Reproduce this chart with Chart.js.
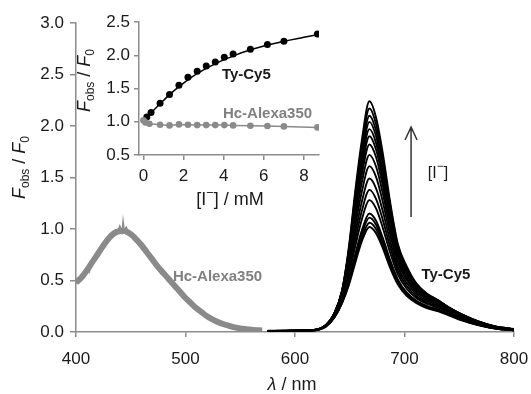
<!DOCTYPE html>
<html>
<head>
<meta charset="utf-8">
<script src="https://cdn.jsdelivr.net/npm/chart.js@4.4.1/dist/chart.umd.min.js"></script>
<style>
  body { margin: 0; background: #fff; }
  #wrap { position: relative; width: 531px; height: 394px; }
  #main { position: absolute; left: 0; top: 0; }
  #inset { position: absolute; left: 0; top: 0; }
</style>
</head>
<body>
<div id="wrap">
  <canvas id="main" width="531" height="394"></canvas>
  <canvas id="inset" width="340" height="215"></canvas>
</div>
<script>
// ---- main spectra ----
const mainXTicks = [400, 500, 600, 700, 800];
const mainYTicks = [0, 0.5, 1, 1.5, 2, 2.5, 3];

// Hc-Alexa350 emission (grey band)
const wlAlexa = [400, 405, 410, 415, 420, 425, 430, 435, 440, 445, 450, 455, 460, 465, 470, 475, 480, 485, 490, 495,
                 500, 505, 510, 515, 520, 525, 530, 535, 540, 545, 550, 555, 560, 565, 570];
const alexa = [0.48, 0.53, 0.60, 0.68, 0.76, 0.84, 0.91, 0.96, 0.98, 0.98, 0.95, 0.90, 0.84, 0.77, 0.70, 0.63, 0.57, 0.51, 0.45, 0.39,
               0.33, 0.28, 0.23, 0.19, 0.15, 0.12, 0.095, 0.075, 0.06, 0.045, 0.035, 0.028, 0.022, 0.018, 0.015];
// noisy trace on top of the band
const wlAlexaNoise = [400, 403, 406, 408, 410, 412, 414, 417, 420, 425, 430, 433, 436, 438, 440, 442, 443, 444, 446, 448, 450, 453, 456, 460];
const alexaNoise = [0.47, 0.50, 0.54, 0.57, 0.62, 0.58, 0.64, 0.70, 0.75, 0.84, 0.92, 0.95, 0.99, 0.97, 1.03, 0.97, 1.08, 0.99, 1.02, 0.96, 0.97, 0.92, 0.90, 0.84];

// Ty-Cy5 emission, one trace per iodide addition
const wlCy5 = [575, 615, 628, 636, 643, 649, 655, 661, 668, 674, 680, 687, 694, 702, 711, 721, 731, 741, 753, 767, 783, 800];
const cy5_01 = [.010, .015, .050, .140, .280, .450, .670, .880, 1.02, .960, .820, .620, .460, .350, .280, .230, .200, .160, .110, .066, .033, .015];
const cy5_02 = [.011, .016, .053, .143, .286, .466, .700, .910, 1.06, 1.00, .850, .650, .477, .360, .286, .238, .206, .169, .116, .069, .034, .016];
const cy5_03 = [.011, .016, .053, .145, .292, .482, .728, .952, 1.11, 1.042, .887, .673, .494, .373, .295, .245, .212, .173, .119, .071, .034, .017];
const cy5_04 = [.012, .017, .055, .148, .299, .496, .753, .986, 1.15, 1.08, .918, .696, .509, .384, .303, .251, .217, .177, .122, .073, .036, .017];
const cy5_05 = [.011, .017, .058, .158, .321, .541, .831, 1.093, 1.28, 1.20, 1.018, .767, .557, .420, .329, .272, .234, .190, .131, .078, .039, .019];
const cy5_06 = [.011, .017, .060, .164, .336, .575, .891, 1.175, 1.38, 1.293, 1.096, .822, .593, .447, .348, .286, .245, .198, .138, .082, .041, .020];
const cy5_07 = [.011, .017, .062, .170, .351, .610, .955, 1.264, 1.49, 1.395, 1.181, .880, .630, .475, .368, .301, .257, .207, .144, .087, .043, .021];
const cy5_08 = [.011, .017, .063, .175, .365, .646, 1.024, 1.361, 1.61, 1.506, 1.272, .943, .670, .505, .388, .316, .269, .215, .150, .091, .045, .023];
const cy5_09 = [.011, .017, .064, .178, .375, .678, 1.086, 1.450, 1.72, 1.607, 1.356, 1.000, .705, .530, .405, .328, .278, .221, .155, .094, .047, .024];
const cy5_10 = [.011, .017, .065, .180, .384, .705, 1.142, 1.529, 1.82, 1.699, 1.432, 1.051, .735, .553, .420, .338, .286, .226, .158, .097, .049, .025];
const cy5_11 = [.011, .016, .065, .181, .390, .726, 1.186, 1.593, 1.90, 1.772, 1.493, 1.090, .759, .571, .431, .345, .291, .229, .161, .099, .050, .026];
const cy5_12 = [.010, .016, .065, .182, .394, .744, 1.224, 1.648, 1.97, 1.836, 1.545, 1.125, .779, .585, .440, .351, .295, .231, .163, .100, .051, .026];
const cy5_13 = [.010, .015, .064, .182, .397, .761, 1.261, 1.703, 2.04, 1.900, 1.598, 1.159, .799, .600, .448, .357, .299, .233, .165, .102, .052, .027];
const cy5_14 = [.010, .015, .064, .181, .400, .775, 1.293, 1.750, 2.10, 1.956, 1.643, 1.188, .815, .612, .455, .361, .302, .234, .166, .103, .052, .028];
const cy5_15 = [.009, .014, .064, .180, .402, .791, 1.330, 1.805, 2.17, 2.019, 1.695, 1.222, .833, .625, .463, .365, .304, .235, .167, .104, .053, .028];
const cy5_16 = [.009, .013, .063, .179, .403, .806, 1.366, 1.859, 2.24, 2.083, 1.747, 1.254, .851, .638, .470, .370, .307, .235, .168, .105, .054, .029];
const cy5Traces = [cy5_01, cy5_02, cy5_03, cy5_04, cy5_05, cy5_06, cy5_07, cy5_08, cy5_09, cy5_10, cy5_11, cy5_12, cy5_13, cy5_14, cy5_15, cy5_16];

// ---- inset: Fobs/F0 vs [I-] ----
const insetXTicks = [0, 2, 4, 6, 8];
const insetYTicks = [0.5, 1, 1.5, 2, 2.5];
const iodideTy = [0.17, 0.38, 0.83, 1.3, 1.77, 2.22, 2.68, 3.13, 3.58, 4.03, 4.47, 5.33, 6.18, 7.0, 8.67];
const ratioTy = [1.07, 1.14, 1.28, 1.41, 1.55, 1.67, 1.76, 1.84, 1.90, 1.97, 2.02, 2.09, 2.16, 2.21, 2.32];
const fitX = [0, 0.5, 1, 1.5, 2, 2.5, 3, 3.5, 4, 4.5, 5, 6, 7, 8, 8.67];
const fitY = [1.0, 1.17, 1.32, 1.46, 1.58, 1.69, 1.78, 1.86, 1.93, 1.99, 2.05, 2.14, 2.21, 2.27, 2.31];
const iodideHc = [0, 0.1, 0.3, 0.83, 1.3, 1.77, 2.22, 2.68, 3.13, 3.58, 4.03, 4.47, 5.33, 6.18, 7.0, 8.67];
const ratioHc = [1.02, 0.99, 0.97, 0.955, 0.945, 0.96, 0.955, 0.95, 0.95, 0.95, 0.95, 0.945, 0.94, 0.935, 0.93, 0.915];

const FONT = '"Liberation Sans", Arial, Helvetica, sans-serif';
const AXIS = '#8c8c8c';
const GREY = '#8a8a8a';
const INK = '#1a1a1a';

const pts = (xs, ys) => xs.map((x, i) => ({ x: x, y: ys[i] }));

// draws text made of several styled pieces (italic F, subscripts ...)
function rich(ctx, parts, x, y, rot) {
    ctx.save();
    ctx.translate(x, y);
    if (rot) ctx.rotate(rot);
    ctx.fillStyle = INK;
    ctx.textBaseline = 'alphabetic';
    ctx.textAlign = 'left';
    let w = 0;
    parts.forEach(p => { ctx.font = p.f; w += ctx.measureText(p.t).width; });
    let cx = -w / 2;
    parts.forEach(p => {
        ctx.font = p.f;
        ctx.fillText(p.t, cx, p.dy || 0);
        cx += ctx.measureText(p.t).width;
    });
    ctx.restore();
}
const fobsParts = [
    { t: 'F', f: 'italic 18px ' + FONT },
    { t: 'obs', f: '12px ' + FONT, dy: 4 },
    { t: ' / ', f: '18px ' + FONT },
    { t: 'F', f: 'italic 18px ' + FONT },
    { t: '0', f: '12px ' + FONT, dy: 4 }
];

function axisOpts(ticksArr, tickLen, pad, fmt) {
    return {
        type: 'linear',
        afterBuildTicks: s => { s.ticks = ticksArr.map(v => ({ value: v })); },
        ticks: { font: { size: 17, family: FONT }, color: INK, padding: pad, maxRotation: 0, callback: fmt },
        grid: { drawOnChartArea: false, drawTicks: true, tickLength: tickLen, color: AXIS, lineWidth: 1.5 },
        border: { color: AXIS, width: 1.5 }
    };
}

// ---------- main chart ----------
const mainDatasets = [];
mainDatasets.push({ data: pts(wlAlexa, alexa), borderColor: GREY, borderWidth: 6, tension: 0.3 });
mainDatasets.push({ data: pts(wlAlexaNoise, alexaNoise), borderColor: GREY, borderWidth: 1.4, tension: 0 });
cy5Traces.forEach(tr => {
    mainDatasets.push({ data: pts(wlCy5, tr), borderColor: '#000', borderWidth: 1.9, cubicInterpolationMode: 'monotone' });
});

const mainAnnot = {
    id: 'mainAnnot',
    afterDraw(chart) {
        const { ctx, chartArea, scales: { x, y } } = chart;
        ctx.save();
        // series labels
        ctx.font = 'bold 15px ' + FONT;
        ctx.textBaseline = 'alphabetic';
        ctx.fillStyle = '#808080';
        ctx.fillText('Hc-Alexa350', x.getPixelForValue(488.5), y.getPixelForValue(0.495));
        ctx.fillStyle = INK;
        ctx.fillText('Ty-Cy5', x.getPixelForValue(715.5), y.getPixelForValue(0.515));
        // arrow
        const ax = x.getPixelForValue(706), y0 = y.getPixelForValue(1.117), y1 = y.getPixelForValue(1.99);
        ctx.strokeStyle = '#333';
        ctx.lineWidth = 1.5;
        ctx.beginPath();
        ctx.moveTo(ax, y0); ctx.lineTo(ax, y1);
        ctx.moveTo(ax - 6, y1 + 13); ctx.lineTo(ax, y1); ctx.lineTo(ax + 6, y1 + 13);
        ctx.stroke();
        ctx.restore();
        // [I-] near arrow
        const ix = x.getPixelForValue(720.5), iy = y.getPixelForValue(1.495);
        rich(ctx, [
            { t: '[I', f: '16px ' + FONT },
            { t: '\u2212', f: '12px ' + FONT, dy: -8 },
            { t: ']', f: '16px ' + FONT }
        ], ix + 11, iy);
        // axis titles
        rich(ctx, fobsParts, 25, (chartArea.top + chartArea.bottom) / 2 - 10, -Math.PI / 2);
        rich(ctx, [
            { t: '\u03bb', f: 'italic 18px ' + FONT },
            { t: ' / nm', f: '18px ' + FONT }
        ], 292, 390);
    }
};

const mainX = axisOpts(mainXTicks, 5, 12, v => v);
mainX.min = 400; mainX.max = 800;
mainX.afterFit = s => { s.height = 62; s.paddingLeft = 0; s.paddingRight = 0; };
const mainY = axisOpts(mainYTicks, 6, 6, v => v.toFixed(1));
mainY.min = 0; mainY.max = 3;
mainY.afterFit = s => { s.width = 76; s.paddingTop = 0; s.paddingBottom = 0; };

new Chart(document.getElementById('main'), {
    type: 'line',
    data: { datasets: mainDatasets },
    options: {
        responsive: false, animation: false, devicePixelRatio: 1,
        layout: { padding: { top: 23, right: 17, left: 0, bottom: 0 } },
        elements: { point: { radius: 0 } },
        plugins: { legend: { display: false }, tooltip: { enabled: false } },
        scales: { x: mainX, y: mainY }
    },
    plugins: [mainAnnot]
});

// ---------- inset chart ----------
const insetAnnot = {
    id: 'insetAnnot',
    afterDraw(chart) {
        const { ctx, chartArea, scales: { x, y } } = chart;
        ctx.save();
        ctx.font = 'bold 15px ' + FONT;
        ctx.textBaseline = 'alphabetic';
        ctx.fillStyle = INK;
        ctx.fillText('Ty-Cy5', x.getPixelForValue(3.91), y.getPixelForValue(1.647));
        ctx.fillStyle = '#808080';
        ctx.fillText('Hc-Alexa350', x.getPixelForValue(3.96), y.getPixelForValue(1.06));
        ctx.restore();
        rich(ctx, fobsParts, 90, (chartArea.top + chartArea.bottom) / 2 - 8, -Math.PI / 2);
        rich(ctx, [
            { t: '[I', f: '18px ' + FONT },
            { t: '\u2212', f: '13px ' + FONT, dy: -8 },
            { t: '] / mM', f: '18px ' + FONT }
        ], 230, 205);
    }
};

const insetX = axisOpts(insetXTicks, 5, 6, v => v);
insetX.min = -0.22; insetX.max = 8.75;
insetX.afterFit = s => { s.height = 60; s.paddingLeft = 0; s.paddingRight = 0; };
const insetY = axisOpts(insetYTicks, 5, 4, v => v.toFixed(1));
insetY.min = 0.5; insetY.max = 2.5;
insetY.afterFit = s => { s.width = 139; s.paddingTop = 0; s.paddingBottom = 0; };

new Chart(document.getElementById('inset'), {
    type: 'line',
    data: {
        datasets: [
            { data: pts(iodideHc, ratioHc), borderColor: GREY, backgroundColor: GREY, borderWidth: 1.5, pointRadius: 3.3, pointBorderWidth: 0 },
            { data: pts(fitX, fitY), borderColor: '#000', borderWidth: 1.5, pointRadius: 0, tension: 0.4 },
            { data: pts(iodideTy, ratioTy), showLine: false, backgroundColor: '#000', borderColor: '#000', pointRadius: 3.5, pointBorderWidth: 0 }
        ]
    },
    options: {
        responsive: false, animation: false, devicePixelRatio: 1,
        layout: { padding: { top: 22, right: 21, left: 0, bottom: 0 } },
        plugins: { legend: { display: false }, tooltip: { enabled: false } },
        scales: { x: insetX, y: insetY }
    },
    plugins: [insetAnnot]
});
</script>
</body>
</html>
